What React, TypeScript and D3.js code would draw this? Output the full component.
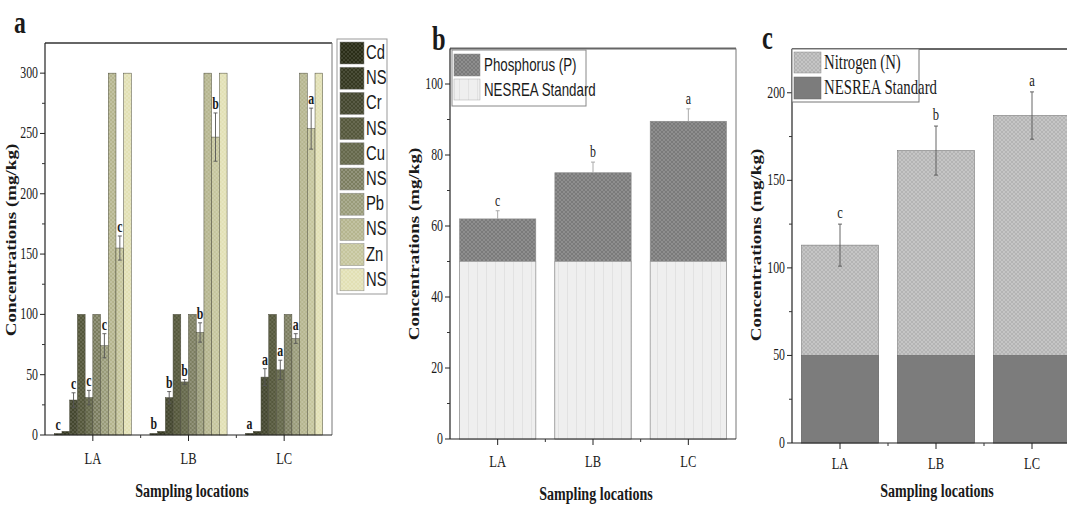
import React from "react"
import * as d3 from "d3"

// Data
const locations = ["LA", "LB", "LC"]
const groupLetters = ["c", "b", "a"]

const metalNames = ["Cd", "NS", "Cr", "NS", "Cu", "NS", "Pb", "NS", "Zn", "NS"]
const cdMean = [1.2, 1.3, 1.4]
const cdLimit = [3, 3, 3]
const crMean = [29, 31, 48]
const crErr = [6, 5, 7]
const crLimit = [100, 100, 100]
const cuMean = [31, 44, 54]
const cuErr = [6, 2, 8]
const cuLimit = [100, 100, 100]
const pbMean = [74, 85, 80]
const pbErr = [10, 8, 4]
const pbLimit = [300, 300, 300]
const znMean = [155, 247, 254]
const znErr = [10, 20, 17]
const znLimit = [300, 300, 300]

const phosphorus = [62, 75, 89.5]
const phosphorusErr = [2.3, 3, 3.5]
const nitrogen = [113, 167, 187]
const nitrogenErr = [12, 14, 13.5]
const nesreaStandard = [50, 50, 50]

const ticksA = [0, 50, 100, 150, 200, 250, 300]
const ticksB = [0, 20, 40, 60, 80, 100]
const ticksC = [0, 50, 100, 150, 200]

const metalColors = [
  "#2a2d17", "#353821", "#44472f", "#55583c", "#65684b",
  "#7b7d5f", "#999b79", "#b5b58e", "#c5c59c", "#e2e0b4"
]

const serif = "'Liberation Serif', 'Times New Roman', serif"
const sans = "'Liberation Sans', Arial, sans-serif"
const sx = 0.74

function T({ x, y, size, children, anchor = "middle", weight = "normal", family = serif, rotate = false, fill = "#1a1a1a" }) {
  return (
    <text
      transform={`translate(${x},${y}) scale(${sx},1)${rotate ? " rotate(-90)" : ""}`}
      fontSize={size}
      textAnchor={anchor}
      fontWeight={weight}
      fontFamily={family}
      fill={fill}
    >
      {children}
    </text>
  )
}

function Hatch({ id, color, line = "#ffffff", op = 0.3 }) {
  return (
    <pattern id={id} width={4} height={4} patternUnits="userSpaceOnUse">
      <rect width={4} height={4} fill={color} />
      <path d="M0,0L4,4M4,0L0,4" stroke={line} strokeWidth={0.6} opacity={op} />
    </pattern>
  )
}

function Axes({ x, y, ticks, minor, labelX, frameRight }) {
  const [y0, y1] = y.range()
  const [x0] = x.range()
  const step = x.step()
  return (
    <g>
      <line x1={x0} x2={frameRight} y1={y1} y2={y1} stroke="#666" strokeWidth={2} />
      <line x1={frameRight} x2={frameRight} y1={y1} y2={y0} stroke="#777" strokeWidth={1} />
      <line x1={x0} x2={x0} y1={y1} y2={y0} stroke="#222" strokeWidth={1.2} />
      <line x1={x0} x2={frameRight} y1={y0} y2={y0} stroke="#222" strokeWidth={1.2} />
      {minor.map((d) => (
        <line key={`m${d}`} x1={x0 - 3} x2={x0} y1={y(d)} y2={y(d)} stroke="#333" />
      ))}
      {ticks.map((d) => (
        <g key={`t${d}`}>
          <line x1={x0 - 5} x2={x0} y1={y(d)} y2={y(d)} stroke="#222" />
          <T x={x0 - 7} y={y(d) + 5} size={16} anchor="end">{d}</T>
        </g>
      ))}
      {locations.map((l, i) => (
        <g key={l}>
          <line x1={x(l) + x.bandwidth() / 2} x2={x(l) + x.bandwidth() / 2} y1={y0} y2={y0 + 6} stroke="#222" />
          {i > 0 && <line x1={x0 + step * i} x2={x0 + step * i} y1={y0} y2={y0 + 3} stroke="#333" />}
          <T x={x(l) + x.bandwidth() / 2} y={labelX} size={17}>{l}</T>
        </g>
      ))}
    </g>
  )
}

function ErrorBar({ cx, top, bottom, color = "#444", cap = 2.5 }) {
  return (
    <g stroke={color} strokeWidth={0.9}>
      <line x1={cx} x2={cx} y1={top} y2={bottom} />
      <line x1={cx - cap} x2={cx + cap} y1={top} y2={top} />
      <line x1={cx - cap} x2={cx + cap} y1={bottom} y2={bottom} />
    </g>
  )
}

function PanelA() {
  const x = d3.scaleBand().domain(locations).range([45, 332])
  const y = d3.scaleLinear().domain([0, 325]).range([435, 43])
  const xs = d3.scaleBand().domain(d3.range(10)).range([0, x.bandwidth()]).paddingOuter(1.2)
  const means = [cdMean, cdLimit, crMean, crLimit, cuMean, cuLimit, pbMean, pbLimit, znMean, znLimit]
  const errs = [null, null, crErr, null, cuErr, null, pbErr, null, znErr, null]
  return (
    <g>
      {locations.map((l, li) => (
        <g key={l} transform={`translate(${x(l)},0)`}>
          {means.map((m, si) => (
            <rect
              key={si}
              x={xs(si)}
              y={y(m[li])}
              width={xs.bandwidth()}
              height={y(0) - y(m[li])}
              fill={`url(#pa${si})`}
              stroke="#4a4a3a"
              strokeWidth={0.5}
            />
          ))}
          {means.map((m, si) => {
            if (si % 2 === 1) return null
            const e = errs[si] ? errs[si][li] : 0
            const cx = xs(si) + xs.bandwidth() / 2
            return (
              <g key={`e${si}`}>
                {e > 0 && <ErrorBar cx={cx} top={y(m[li] + e)} bottom={y(m[li] - e)} color="#555" cap={2} />}
                <T x={cx} y={y(m[li] + e) - 4} size={16} weight="bold">{groupLetters[li]}</T>
              </g>
            )
          })}
        </g>
      ))}
      <Axes x={x} y={y} ticks={ticksA} minor={d3.range(25, 325, 50)} labelX={464} frameRight={332} />
      {/* legend */}
      <rect x={337} y={39} width={50} height={255} fill="#fff" stroke="#999" />
      {metalNames.map((n, i) => (
        <g key={i}>
          <rect x={340} y={42 + i * 25.2} width={24} height={22} fill={`url(#pa${i})`} stroke="#888" strokeWidth={0.5} />
          <T x={366} y={59 + i * 25.2} size={20} anchor="start" family={sans}>{n}</T>
        </g>
      ))}
      <T x={14} y={33} size={32} weight="bold" anchor="start">a</T>
      <T x={16} y={240} size={19} weight="bold" rotate={true}>Concentrations (mg/kg)</T>
      <T x={192} y={497} size={19} weight="bold">Sampling locations</T>
    </g>
  )
}

function PanelB() {
  const x = d3.scaleBand().domain(locations).range([450, 736]).paddingInner(0.2).paddingOuter(0.1)
  const y = d3.scaleLinear().domain([0, 110]).range([439, 48.5])
  return (
    <g>
      {locations.map((l, i) => {
        const cx = x(l) + x.bandwidth() / 2
        return (
          <g key={l}>
            <rect x={x(l)} y={y(phosphorus[i])} width={x.bandwidth()} height={y(0) - y(phosphorus[i])} fill="url(#pP)" stroke="#888" strokeWidth={0.6} />
            <rect x={x(l)} y={y(nesreaStandard[i])} width={x.bandwidth()} height={y(0) - y(nesreaStandard[i])} fill="url(#pNb)" stroke="#999" strokeWidth={0.6} />
            <line x1={cx} x2={cx} y1={y(phosphorus[i])} y2={y(phosphorus[i] + phosphorusErr[i])} stroke="#aaa" />
            <line x1={cx - 2} x2={cx + 2} y1={y(phosphorus[i] + phosphorusErr[i])} y2={y(phosphorus[i] + phosphorusErr[i])} stroke="#aaa" />
            <T x={cx} y={y(phosphorus[i] + phosphorusErr[i]) - 5} size={16}>{groupLetters[i]}</T>
          </g>
        )
      })}
      <Axes x={x} y={y} ticks={ticksB} minor={d3.range(10, 110, 20)} labelX={467} frameRight={736} />
      <rect x={452} y={50} width={134} height={56} fill="#fff" stroke="#888" />
      <rect x={454} y={54} width={26} height={22} fill="url(#pP)" stroke="#888" strokeWidth={0.5} />
      <rect x={454} y={79} width={26} height={21} fill="url(#pNb)" stroke="#aaa" strokeWidth={0.5} />
      <T x={484} y={71} size={18} anchor="start" family={sans}>Phosphorus (P)</T>
      <T x={484} y={96} size={18} anchor="start" family={sans}>NESREA Standard</T>
      <T x={432} y={50} size={33} weight="bold" anchor="start">b</T>
      <T x={419} y={244} size={19} weight="bold" rotate={true}>Concentrations (mg/kg)</T>
      <T x={596} y={500} size={19} weight="bold">Sampling locations</T>
    </g>
  )
}

function PanelC() {
  const x = d3.scaleBand().domain(locations).range([792, 1080]).paddingInner(0.2).paddingOuter(0.1)
  const y = d3.scaleLinear().domain([0, 225]).range([443, 49])
  return (
    <g>
      {locations.map((l, i) => {
        const cx = x(l) + x.bandwidth() / 2
        return (
          <g key={l}>
            <rect x={x(l)} y={y(nitrogen[i])} width={x.bandwidth()} height={y(0) - y(nitrogen[i])} fill="url(#pN)" stroke="#777" strokeWidth={0.6} />
            <rect x={x(l)} y={y(nesreaStandard[i])} width={x.bandwidth()} height={y(0) - y(nesreaStandard[i])} fill="#7c7c7c" stroke="#666" strokeWidth={0.6} />
            <ErrorBar cx={cx} top={y(nitrogen[i] + nitrogenErr[i])} bottom={y(nitrogen[i] - nitrogenErr[i])} color="#555" cap={2} />
            <T x={cx} y={y(nitrogen[i] + nitrogenErr[i]) - 6} size={17}>{groupLetters[i]}</T>
          </g>
        )
      })}
      <Axes x={x} y={y} ticks={ticksC} minor={d3.range(25, 225, 50)} labelX={469} frameRight={1080} />
      <rect x={792} y={49} width={127} height={53} fill="#fff" stroke="#777" />
      <rect x={794} y={52} width={27} height={21} fill="url(#pN)" stroke="#888" strokeWidth={0.5} />
      <rect x={794} y={77} width={27} height={22} fill="#7c7c7c" stroke="#666" strokeWidth={0.5} />
      <T x={824} y={69} size={20} anchor="start">Nitrogen (N)</T>
      <T x={824} y={94} size={20} anchor="start">NESREA Standard</T>
      <T x={762} y={49} size={33} weight="bold" anchor="start">c</T>
      <T x={761} y={245} size={19} weight="bold" rotate={true}>Concentrations (mg/kg)</T>
      <T x={937} y={497} size={19} weight="bold">Sampling locations</T>
    </g>
  )
}

export default function App() {
  return (
    <svg
      width={1067}
      height={505}
      style={{ position: "absolute", left: 0, top: 0, background: "#fff" }}
    >
      <defs>
        {metalColors.map((c, i) => (
          <Hatch key={i} id={`pa${i}`} color={c} op={i < 5 ? 0.18 : 0.3} />
        ))}
        <Hatch id="pP" color="#7a7a7a" op={0.25} />
        <Hatch id="pN" color="#b4b4b4" line="#eeeeee" op={0.5} />
        <pattern id="pNb" width={9} height={4} patternUnits="userSpaceOnUse">
          <rect width={9} height={4} fill="#efefef" />
          <line x1={0.5} x2={0.5} y1={0} y2={4} stroke="#dedede" strokeWidth={0.8} />
        </pattern>
      </defs>
      <rect width={1067} height={505} fill="#fff" />
      <PanelA />
      <PanelB />
      <PanelC />
    </svg>
  )
}
